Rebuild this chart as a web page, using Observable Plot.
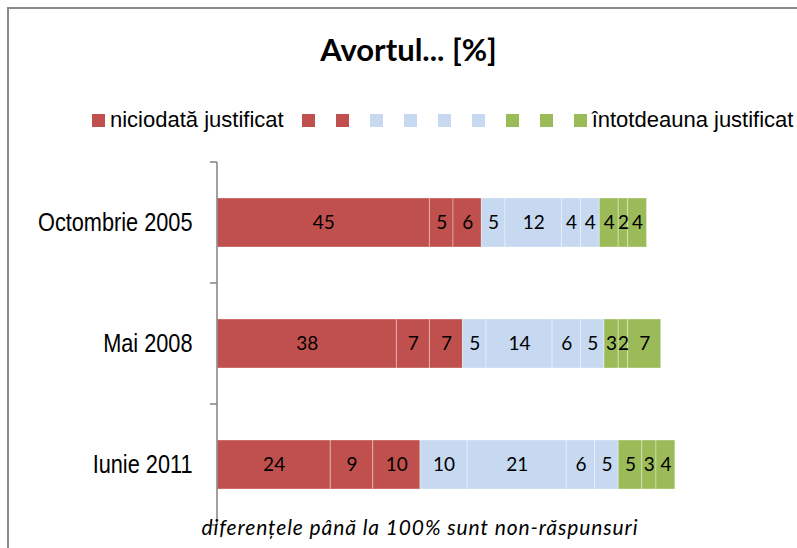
<!DOCTYPE html>
<html>
<head>
<meta charset="utf-8">
<script src="https://cdn.jsdelivr.net/npm/d3@7"></script>
<script src="https://cdn.jsdelivr.net/npm/@observablehq/plot@0.6"></script>
<style>
  body { margin: 0; background: #fff; }
  #wrap { position: relative; width: 797px; height: 548px; overflow: hidden; background: #fff; }
  #frame { position: absolute; left: 7px; top: 7px; width: 820px; height: 620px;
           border-top: 2px solid #8a8a8a; border-left: 2px solid #8a8a8a; box-sizing: border-box; }
  #title { position: absolute; left: 0; width: 817px; top: 34px; text-align: center;
           font-family: Lato, sans-serif; font-weight: bold; font-size: 31px; line-height: 31px; color: #000; }
  #legend { position: absolute; left: 92px; top: 107px; height: 26px; display: flex; align-items: center;
            font-family: "Liberation Sans", Arial, sans-serif; font-size: 22px; color: #000; white-space: nowrap; }
  #legend .item { display: flex; align-items: center; margin-right: 21px; }
  #legend .sw { width: 13px; height: 13px; display: inline-block; }
  #legend .lab { margin-left: 5px; }
  #plot { position: absolute; left: 0; top: 150px; }
  #caption { position: absolute; left: 0; width: 840px; top: 515px; text-align: center;
             font-family: Lato, sans-serif; font-style: italic; font-size: 21px; letter-spacing: 0.9px;
             line-height: 24px; color: #000; }
  #plot g[aria-label="y-axis tick label"] { font-family: "Liberation Sans", Arial, sans-serif; font-size: 26.5px; }
</style>
</head>
<body>
<div id="wrap">
  <div id="frame"></div>
  <div id="title"></div>
  <div id="legend"></div>
  <div id="plot"></div>
  <div id="caption"></div>
</div>
<script>
const titleText = "Avortul... [%]";
const captionText = "diferențele până la 100% sunt non-răspunsuri";
const categories = ["Octombrie 2005", "Mai 2008", "Iunie 2011"];
const seriesKeys = ["s1", "s2", "s3", "s4", "s5", "s6", "s7", "s8", "s9", "s10"];
const seriesLabels = ["niciodată justificat", "", "", "", "", "", "", "", "", "întotdeauna justificat"];
const seriesColors = ["#C0504D", "#C0504D", "#C0504D", "#C6D9F1", "#C6D9F1", "#C6D9F1", "#C6D9F1", "#9BBB59", "#9BBB59", "#9BBB59"];
const oct2005 = [45, 5, 6, 5, 12, 4, 4, 4, 2, 4];
const mai2008 = [38, 7, 7, 5, 14, 6, 5, 3, 2, 7];
const iun2011 = [24, 9, 10, 10, 21, 6, 5, 5, 3, 4];

const valuesByCategory = [oct2005, mai2008, iun2011];
const rows = [];
categories.forEach((cat, i) => {
  valuesByCategory[i].forEach((v, j) => rows.push({cat, series: seriesKeys[j], value: v}));
});

document.getElementById("title").textContent = titleText;
document.getElementById("caption").textContent = captionText;

const legend = d3.select("#legend");
seriesKeys.forEach((k, i) => {
  const it = legend.append("div").attr("class", "item");
  it.append("span").attr("class", "sw").style("background", seriesColors[i]);
  if (seriesLabels[i]) it.append("span").attr("class", "lab").text(seriesLabels[i]);
  if (i === 0) it.style("margin-right", "18px");
});

const chart = Plot.plot({
  width: 797,
  height: 398,
  marginTop: 12,
  marginBottom: 23,
  marginLeft: 217,
  marginRight: 108,
  x: {domain: [0, 100], axis: null},
  y: {domain: categories, padding: 0, label: null},
  color: {domain: seriesKeys, range: seriesColors},
  style: {fontFamily: "Lato, sans-serif", background: "transparent", overflow: "visible"},
  marks: [
    Plot.barX(rows, {x: "value", y: "cat", fill: "series", insetTop: 36, insetBottom: 36,
      stroke: "white", strokeOpacity: 0.35, strokeWidth: 1}),
    Plot.textX(rows, Plot.stackX({x: "value", y: "cat", z: "series", text: d => String(d.value),
      fill: "black", fontSize: 19, fontFamily: "Lato, sans-serif"})),
    Plot.axisY({tickSize: 0, tickPadding: 25, fill: "black", fontSize: 26.5})
  ]
});

document.getElementById("plot").appendChild(chart);

// condense the category labels horizontally (narrow face substitute)
d3.select(chart).selectAll('g[aria-label="y-axis tick label"] text').each(function() {
  const t = this.getAttribute("transform") || "";
  this.setAttribute("transform", t + " scale(0.82,1)");
});

// axis line and boundary ticks from the library's scales
const ys = chart.scale("y");
const xs = chart.scale("x");
const x0 = xs.apply(0);
const bounds = categories.map(c => ys.apply(c));
bounds.push(ys.apply(categories[categories.length - 1]) + ys.bandwidth);
const svg = d3.select(chart);
const g = svg.append("g").attr("stroke", "#8a8a8a").attr("stroke-width", 1.6);
g.append("line").attr("x1", x0).attr("x2", x0).attr("y1", bounds[0]).attr("y2", bounds[bounds.length - 1]);
bounds.forEach(b => g.append("line").attr("x1", x0 - 7).attr("x2", x0).attr("y1", b).attr("y2", b));
</script>
</body>
</html>
